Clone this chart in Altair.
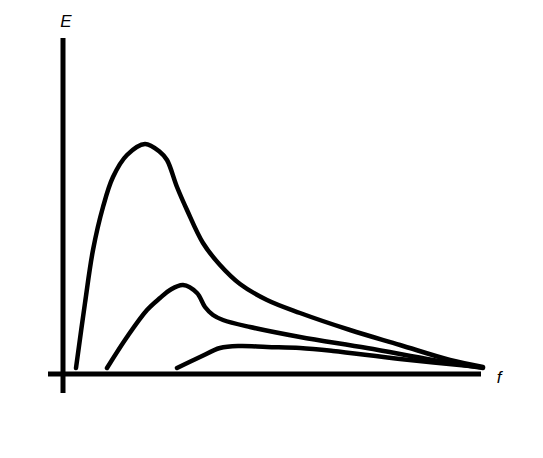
import altair as alt
import pandas as pd

# Frequency (f) and energy (E) values
big_f = [13, 22, 30, 40, 50, 64, 82, 97, 104, 114, 124, 140, 157, 177, 204, 237, 287, 337, 387, 420]
big_E = [6, 71, 124, 167, 197, 219, 230, 222, 214, 187, 164, 131, 109, 90, 74, 61, 44, 29, 14, 7]

mid_f = [44, 64, 84, 97, 107, 120, 134, 142, 150, 160, 187, 237, 304, 370, 420]
mid_E = [6, 37, 64, 76, 84, 89, 81, 67, 59, 54, 47, 37, 26, 14, 6]

small_f = [114, 137, 157, 177, 204, 237, 270, 337, 417]
small_E = [6, 17, 26, 28, 27, 26, 23, 15, 7]

curves = [("high", big_f, big_E), ("mid", mid_f, mid_E), ("low", small_f, small_E)]
rows = []
for name, fs, es in curves:
    for i, (fv, ev) in enumerate(zip(fs, es)):
        rows.append({"curve": name, "f": fv, "E": ev, "order": i})
df = pd.DataFrame(rows)

# axis extents
axis_v = pd.DataFrame({"f": [0], "E": [-19], "E2": [336]})
axis_h = pd.DataFrame({"f": [-15], "f2": [418], "E": [0]})
labels = pd.DataFrame({"f": [3, 436], "E": [347, -9], "text": ["E", "f"]})

xs = alt.Scale(domain=[-55, 465], nice=False, zero=False)
ys = alt.Scale(domain=[-74, 366], nice=False, zero=False)

lines = alt.Chart(df).mark_line(
    color="black", strokeWidth=4.5, interpolate="catmull-rom", strokeCap="round"
).encode(
    x=alt.X("f:Q", scale=xs, axis=None),
    y=alt.Y("E:Q", scale=ys, axis=None),
    detail="curve:N",
    order="order:Q",
)

vrule = alt.Chart(axis_v).mark_rule(color="black", strokeWidth=5).encode(
    x=alt.X("f:Q", scale=xs, axis=None),
    y=alt.Y("E:Q", scale=ys, axis=None),
    y2="E2:Q",
)
hrule = alt.Chart(axis_h).mark_rule(color="black", strokeWidth=5).encode(
    x=alt.X("f:Q", scale=xs, axis=None),
    x2="f2:Q",
    y=alt.Y("E:Q", scale=ys, axis=None),
)

text = alt.Chart(labels).mark_text(
    font="Liberation Sans", fontSize=17, fontStyle="italic", color="black",
    align="center", baseline="alphabetic"
).encode(
    x=alt.X("f:Q", scale=xs, axis=None),
    y=alt.Y("E:Q", scale=ys, axis=None),
    text="text:N",
)

chart = alt.layer(vrule, hrule, lines, text).properties(
    width=520, height=440,
    autosize=alt.AutoSizeParams(type="none"),
    padding=0,
).configure_view(stroke=None)

chart.save("out.html", embed_options={"renderer": "svg", "actions": False})
